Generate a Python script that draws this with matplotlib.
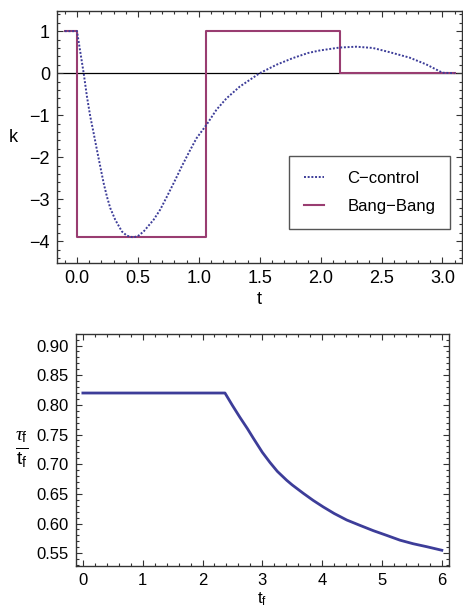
import matplotlib
matplotlib.use('Agg')
import matplotlib.pyplot as plt
from matplotlib.ticker import MultipleLocator, FormatStrFormatter

plt.rcParams['font.family'] = 'Liberation Sans'
plt.rcParams['mathtext.fontset'] = 'custom'
plt.rcParams['mathtext.rm'] = 'Liberation Sans'
plt.rcParams['mathtext.it'] = 'Liberation Serif:italic'

# C-control curve
t_cc = [-0.1, 0.0, 0.055, 0.082, 0.109, 0.137, 0.164, 0.191, 0.219, 0.246,
        0.273, 0.314, 0.369, 0.41, 0.46, 0.50, 0.547, 0.629, 0.683, 0.738,
        0.80, 0.86, 0.92, 0.981, 1.063, 1.145, 1.227, 1.336, 1.5, 1.637,
        1.773, 1.896, 1.992, 2.156, 2.293, 2.429, 2.566, 2.73, 2.866, 3.0, 3.1]
k_cc = [1.0, 1.0, 0.0, -0.56, -1.03, -1.43, -1.83, -2.22, -2.62, -2.94,
        -3.21, -3.49, -3.77, -3.87, -3.91, -3.88, -3.77, -3.49, -3.25, -2.94,
        -2.58, -2.22, -1.88, -1.55, -1.23, -0.87, -0.60, -0.32, 0.0, 0.20,
        0.36, 0.48, 0.54, 0.61, 0.63, 0.60, 0.50, 0.37, 0.21, 0.01, 0.0]

# Bang-Bang switching times and levels
t_bb = [-0.1, 0.0, 1.063, 2.158, 3.1]
k_bb = [1.0, -3.9, 1.0, 0.0, 0.0]

# tau_f / t_f vs t_f
tf = [0.0, 2.375, 2.5, 2.625, 2.75, 2.848, 3.0, 3.127, 3.25, 3.406, 3.5,
      3.684, 3.85, 4.018, 4.2, 4.41, 4.63, 4.855, 5.08, 5.30, 5.52, 5.747, 6.0]
ratio = [0.82, 0.82, 0.799, 0.779, 0.760, 0.744, 0.720, 0.703, 0.688, 0.673,
         0.665, 0.651, 0.639, 0.628, 0.617, 0.606, 0.597, 0.588, 0.580, 0.572,
         0.566, 0.561, 0.555]

blue = '#3d3d99'
purple = '#993d71'
frame = '#333333'

fig = plt.figure(figsize=(4.63, 6.08), dpi=100)
ax1 = fig.add_axes([0.1231, 0.5674, 0.8757, 0.4145])
ax2 = fig.add_axes([0.1635, 0.0696, 0.8063, 0.3806])


def style(ax):
    for s in ax.spines.values():
        s.set_color(frame)
        s.set_linewidth(1.0)
    ax.tick_params(which='both', direction='in', top=True, right=True,
                   color=frame, width=0.8)
    ax.tick_params(which='major', length=4.5, pad=5)
    ax.tick_params(which='minor', length=2.2)


ax1.axhline(0, color='black', lw=0.9, zorder=1)
ax1.plot(t_cc, k_cc, color=blue, lw=1.4, ls=(0, (1.0, 0.9)), label='C\u2212control', zorder=3)
ax1.plot(t_bb, k_bb, color=purple, lw=1.5, drawstyle='steps-post', label='Bang\u2212Bang', zorder=2)
ax1.set_xlim(-0.164, 3.164)
ax1.set_ylim(-4.52, 1.48)
ax1.xaxis.set_major_locator(MultipleLocator(0.5))
ax1.xaxis.set_minor_locator(MultipleLocator(0.1))
ax1.yaxis.set_major_locator(MultipleLocator(1))
ax1.yaxis.set_minor_locator(MultipleLocator(0.2))
ax1.xaxis.set_major_formatter(FormatStrFormatter('%.1f'))
style(ax1)
ax1.tick_params(labelsize=13)
ax1.set_xlabel('t', fontsize=13, labelpad=3)
ax1.set_ylabel('k', fontsize=13, rotation=0, labelpad=12, va='center')
leg = ax1.legend(loc='upper left', bbox_to_anchor=(0.552, 0.458), fontsize=12,
                 handlelength=1.2, handletextpad=1.4, borderpad=0.9,
                 labelspacing=0.8, fancybox=False, framealpha=1)
leg.get_frame().set_edgecolor('#555555')
leg.get_frame().set_linewidth(1.0)

ax2.plot(tf, ratio, color=blue, lw=2.0, solid_joinstyle='round')
ax2.set_xlim(-0.12, 6.12)
ax2.set_ylim(0.529, 0.919)
ax2.xaxis.set_major_locator(MultipleLocator(1))
ax2.xaxis.set_minor_locator(MultipleLocator(0.2))
ax2.yaxis.set_major_locator(MultipleLocator(0.05))
ax2.yaxis.set_minor_locator(MultipleLocator(0.01))
ax2.yaxis.set_major_formatter(FormatStrFormatter('%.2f'))
style(ax2)
ax2.tick_params(labelsize=12)
ax2.set_xlabel(r'$\mathrm{t_f}$', fontsize=12, labelpad=2)
ax2.set_ylabel(r'$\frac{\tau_\mathrm{f}}{\mathrm{t_f}}$', fontsize=20, rotation=0,
               labelpad=11, va='center')

fig.savefig('out.png', dpi=100, facecolor='w')
